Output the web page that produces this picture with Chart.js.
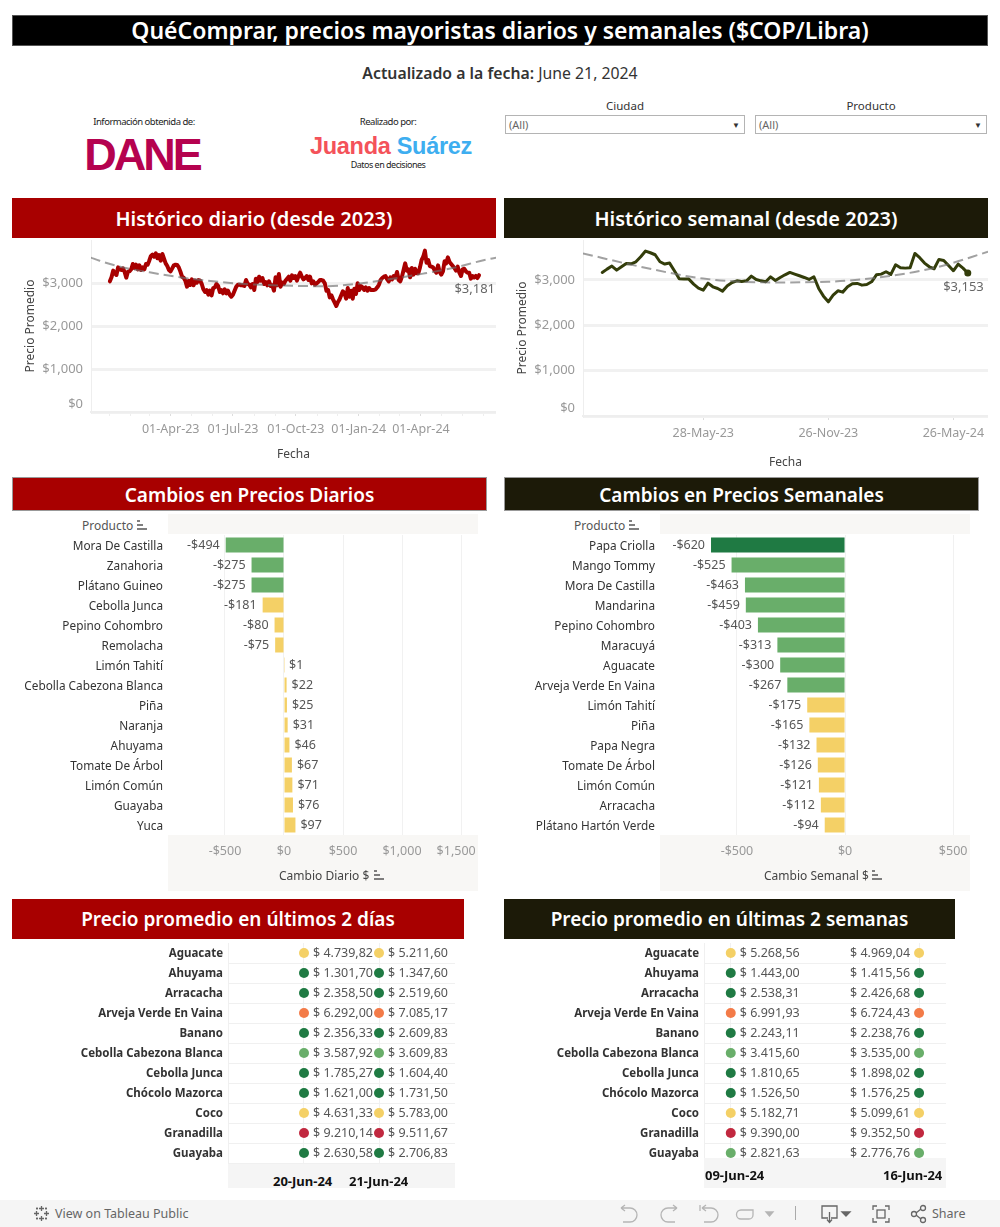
<!DOCTYPE html>
<html lang="es">
<head>
<meta charset="utf-8">
<title>QuéComprar</title>
<script src="https://cdn.jsdelivr.net/npm/chart.js@4"></script>
<style>
  html, body { margin: 0; padding: 0; background: #fff; }
  body { position: relative; width: 1000px; height: 1227px; overflow: hidden; font-family: "Noto Sans", sans-serif; color: #333; }
  canvas { position: absolute; display: block; }
  .caja { position: absolute; box-sizing: border-box; }
  .cab { position: absolute; box-sizing: border-box; color: #fff; font-weight: 600; text-align: center; white-space: nowrap; }
  .roja { background: #a80000; }
  .oscura { background: #1c1a08; }
  .txt { position: absolute; white-space: nowrap; }
  .filtro { position: absolute; box-sizing: border-box; height: 19px; top: 115px; border: 1px solid #b4b4b4; font-size: 11px; color: #666; line-height: 18px; padding-left: 3px; }
  .filtro span { position: absolute; right: 4px; top: 0; font-size: 8px; color: #333; }
  .banda { position: absolute; background: #f8f7f5; }
  .pie { position: absolute; background: #f5f5f5; z-index: 3; }
  svg { position: absolute; }
</style>
</head>
<body>

<div class="cab" style="left:12px;top:15px;width:976px;height:31px;background:#000;border:1px solid #555;font-size:23px;line-height:29px;">QuéComprar, precios mayoristas diarios y semanales ($COP/Libra)</div>
<div class="txt" style="left:0;width:1000px;text-align:center;top:62px;font-size:15.8px;color:#333;"><b style="font-weight:600">Actualizado a la fecha:</b> June 21, 2024</div>

<div class="txt" style="left:64px;width:160px;text-align:center;top:115px;font-size:9.5px;letter-spacing:-.5px;color:#222;">Información obtenida de:</div>
<div class="txt" style="left:62px;width:160px;text-align:center;top:128px;font:700 45px/54px 'Liberation Sans',sans-serif;color:#b5024f;letter-spacing:-3px;">DANE</div>
<div class="txt" style="left:308px;width:160px;text-align:center;top:115px;font-size:9.5px;letter-spacing:-.5px;color:#222;">Realizado por:</div>
<div class="txt" style="left:301px;width:180px;text-align:center;top:132px;font:700 23.5px/28px 'Liberation Sans',sans-serif;letter-spacing:-.3px;"><span style="color:#f4525a">Juanda</span> <span style="color:#3eaef0">Suárez</span></div>
<div class="txt" style="left:308px;width:160px;text-align:center;top:158px;font-size:9px;letter-spacing:-.5px;color:#222;">Datos en decisiones</div>

<div class="txt" style="left:505px;width:240px;text-align:center;top:98px;font-size:11.5px;">Ciudad</div>
<div class="filtro" style="left:505px;width:240px;">(All)<span>▼</span></div>
<div class="txt" style="left:755px;width:232px;text-align:center;top:98px;font-size:11.5px;">Producto</div>
<div class="filtro" style="left:755px;width:232px;">(All)<span>▼</span></div>

<div class="cab roja" style="left:12px;top:198px;width:484px;height:40px;font-size:20px;line-height:42px;">Histórico diario (desde 2023)</div>
<div class="cab oscura" style="left:504px;top:198px;width:484px;height:40px;font-size:20px;line-height:42px;">Histórico semanal (desde 2023)</div>
<canvas id="lineaDiaria" style="left:0;top:240px;" width="496" height="222"></canvas>
<canvas id="lineaSemanal" style="left:504px;top:240px;" width="484" height="230"></canvas>

<div class="cab roja" style="left:12px;top:477px;width:475px;height:34px;font-size:19px;line-height:34px;border:1px solid #999;">Cambios en Precios Diarios</div>
<div class="cab oscura" style="left:504px;top:477px;width:475px;height:34px;font-size:19px;line-height:34px;border:1px solid #999;">Cambios en Precios Semanales</div>
<div class="banda" style="left:168px;top:514px;width:310px;height:20px;"></div>
<div class="banda" style="left:168px;top:835px;width:310px;height:56px;"></div>
<div class="banda" style="left:660px;top:514px;width:310px;height:20px;"></div>
<div class="banda" style="left:660px;top:835px;width:310px;height:56px;"></div>
<div class="txt" style="left:82px;top:517px;font-size:12px;color:#555;">Producto</div>
<div class="txt" style="left:574px;top:517px;font-size:12px;color:#555;">Producto</div>
<svg style="left:137px;top:520px" width="11" height="11"><path d="M0 1h3M0 5h6M0 9h10" stroke="#555" stroke-width="1.6"/></svg>
<svg style="left:629px;top:520px" width="11" height="11"><path d="M0 1h3M0 5h6M0 9h10" stroke="#555" stroke-width="1.6"/></svg>
<canvas id="barrasDiarias" style="left:0;top:535px;" width="478" height="356"></canvas>
<canvas id="barrasSemanales" style="left:492px;top:535px;" width="478" height="356"></canvas>
<div class="txt" style="left:279px;top:867px;font-size:12px;color:#444;">Cambio Diario $</div>
<div class="txt" style="left:764px;top:867px;font-size:12px;color:#444;">Cambio Semanal $</div>
<svg style="left:374px;top:870px" width="11" height="11"><path d="M0 1h3M0 5h6M0 9h10" stroke="#555" stroke-width="1.6"/></svg>
<svg style="left:872px;top:870px" width="11" height="11"><path d="M0 1h3M0 5h6M0 9h10" stroke="#555" stroke-width="1.6"/></svg>

<div class="cab roja" style="left:12px;top:899px;width:452px;height:40px;font-size:19px;line-height:41px;">Precio promedio en últimos 2 días</div>
<div class="cab oscura" style="left:504px;top:899px;width:451px;height:40px;font-size:19px;line-height:41px;">Precio promedio en últimas 2 semanas</div>
<canvas id="tablaDias" style="left:0;top:943px;" width="455" height="221"></canvas>
<canvas id="tablaSemanas" style="left:504px;top:943px;" width="442" height="221"></canvas>
<div class="pie" style="left:228px;top:1164px;width:227px;height:24px;"></div>
<div class="pie" style="left:704px;top:1158px;width:242px;height:30px;"></div>
<div id="fechasPie"></div>

<div class="caja" style="left:0;top:1200px;width:1000px;height:27px;background:#f5f5f5;"></div>
<svg style="left:33px;top:1205px" width="18" height="18" stroke="#666" stroke-width="1.3" fill="none"><path d="M8.5 1v5M6 3.5h5M8.5 11v5M6 13.5h5M3.5 6v5M1 8.5h5M13.5 6v5M11 8.5h5M4 2.5v2M3 3.5h2M13 2.5v2M12 3.5h2M4 12.5v2M3 13.5h2M13 12.5v2M12 13.5h2"/></svg>
<div class="txt" style="left:55px;top:1205px;font-size:12.5px;color:#666;">View on Tableau Public</div>
<svg style="left:615px;top:1204px" width="160" height="20" fill="none" stroke="#b5b5b5" stroke-width="1.3"><path d="M6 4 H15 a7 7 0 0 1 0 14 H8 M6 4 l4 -3 M6 4 l4 3"/><path d="M62 4 H53 a7 7 0 0 0 0 14 H60 M62 4 l-4 -3 M62 4 l-4 3"/><path d="M87 4 H96 a7 7 0 0 1 0 14 H89 M85 1 v6 M87 4 l4 -3 M87 4 l4 3"/><path d="M138 6 H126 a4 4 0 0 0 0 9 H134 a4 4 0 0 0 4 -4 Z"/><path d="M151 8 h7 l-3.5 4 Z" fill="#b5b5b5"/></svg>
<div class="caja" style="left:795px;top:1206px;width:1px;height:14px;background:#aaa;"></div>
<svg style="left:820px;top:1204px" width="150" height="20" fill="none" stroke="#666" stroke-width="1.3"><path d="M8 14 H2 V2 H17 V14 H11 M9.5 8 V18 M7 15.5 l2.5 3 l2.5 -3"/><path d="M22 8 h8 l-4 4 Z" fill="#666"/><path d="M53 6 V2 H57 M65 2 H69 V6 M69 14 V18 H65 M57 18 H53 V14"/><rect x="57" y="6" width="8" height="8"/><circle cx="94" cy="10" r="2.5"/><circle cx="103" cy="4" r="2.5"/><circle cx="103" cy="16" r="2.5"/><path d="M96 9 L101 5 M96 11 L101 15"/></svg>
<div class="txt" style="left:932px;top:1205px;font-size:12.5px;color:#666;">Share</div>

<script>
// ---- Datos ----

// Histórico diario: una muestra cada pocos días desde ene-2023
const valoresDiarios = [
  3039, 3132, 3287, 3225, 3186, 3364, 3318, 3302, 3341, 3256, 3124, 3264, 3271, 3318, 3442, 3349, 3426, 3318, 3411,
  3302, 3364, 3318, 3442, 3426, 3519, 3628, 3659, 3612, 3690, 3574, 3651, 3519, 3674, 3566, 3457, 3395, 3302, 3271,
  3341, 3411, 3426, 3419, 3364, 3264, 3147, 3124, 3054, 2915, 3054, 2953, 3085, 2946, 3054, 3008, 3070,
  3054, 2977, 2853, 2791, 2837, 2729, 2822, 2713, 2884, 2899, 2977, 2930, 2791, 2837, 2760, 2853, 2760, 2822, 2729,
  2682, 2729, 2822, 2915, 2961, 2961, 2946, 2946, 2930, 3070, 2977, 2961, 2899, 2977, 2837, 3101, 3023, 3147, 3054,
  3116, 2977, 3023, 2946, 3039, 2930, 2946, 2822, 3132, 2946, 3209, 2915, 3008, 2977, 3054, 3101, 3147, 3054, 3178, 3116,
  3162, 3054, 3162, 3240, 3147, 3085, 3116, 3162, 3069, 3147, 2992, 3038, 2961, 2992, 3023, 3069, 3069, 3054, 2992,
  2821, 2837, 2666, 2713, 2620, 2542, 2465, 2558, 2620, 2713, 2806, 2759, 2635, 2883, 2682, 2821, 2635, 2868, 2744,
  2992, 2837, 2930, 2899, 2837, 2899, 2821, 2883, 2837, 2837, 2837, 2852, 2899, 2961, 3069, 3116, 3147, 3162, 3085, 3038,
  3132, 3085, 3163, 3132, 3256, 3070, 3039, 3147, 3302, 3457, 3287, 3318, 3132, 3349, 3194, 3333, 3225, 3225, 3364,
  3535, 3612, 3752, 3473, 3535, 3395, 3380, 3364, 3287, 3240, 3411, 3256, 3194, 3271, 3504, 3457, 3597, 3488, 3442,
  3395, 3349, 3287, 3380, 3240, 3163, 3318, 3333, 3271, 3240, 3240, 3101, 3163, 3132, 3163, 3116, 3181
];
const primerDiaMuestra = 1;
const diasEntreMuestras = 2.4;

// Tendencia diaria (días desde 1-ene-2023 y precio)
const tendenciaDiariaDias = [-27, -14, 16, 59, 108, 184, 267, 318, 362, 462, 501, 549, 566];
const tendenciaDiariaValores = [3590, 3518, 3379, 3248, 3123, 2993, 2935, 2925, 2980, 3225, 3342, 3535, 3590];

// Marcas mensuales del eje X diario
const marcasMensuales = [0, 31, 59, 90, 120, 151, 181, 212, 243, 273, 304, 334, 365, 396, 425, 456, 486, 517, 547];
const marcasTrimestre = [90, 181, 273, 365, 456];
const etiquetasTrimestre = ['01-Apr-23', '01-Jul-23', '01-Oct-23', '01-Jan-24', '01-Apr-24'];

// Histórico semanal: una fila por semana desde 01-Jan-23 hasta 16-Jun-24
const valoresSemanales = [
  3165, 3238, 3305, 3216, 3290, 3363, 3356, 3400, 3510, 3636, 3599, 3555, 3400, 3349, 3371, 3201, 3024, 3018, 3018, 2907,
  2819, 2775, 2929, 2848, 2811, 2753, 2870, 2944, 2980, 2966, 2980, 3084, 3010, 2980, 2958, 3068, 2988, 3054, 3113, 3165,
  3128, 3091, 3054, 3010, 3069, 2812, 2642, 2517, 2664, 2760, 2731, 2848, 2915, 2922, 2885, 2900, 2959, 3113, 3128, 3180,
  3121, 3334, 3268, 3260, 3268, 3584, 3489, 3371, 3290, 3246, 3452, 3430, 3319, 3202, 3349, 3260, 3153
];
const tendenciaSemanalIdx = [-4, 8, 21, 35, 47, 60, 70, 80.2];
const tendenciaSemanalValores = [3585, 3290, 3030, 2945, 2960, 3090, 3290, 3620];
const marcasSemana = [21, 47, 73];
const etiquetasSemana = ['28-May-23', '26-Nov-23', '26-May-24'];

// Cambios diarios
const productosDiarios = ['Mora De Castilla', 'Zanahoria', 'Plátano Guineo', 'Cebolla Junca', 'Pepino Cohombro', 'Remolacha', 'Limón Tahití', 'Cebolla Cabezona Blanca', 'Piña', 'Naranja', 'Ahuyama', 'Tomate De Árbol', 'Limón Común', 'Guayaba', 'Yuca'];
const cambiosDiarios = [-494, -275, -275, -181, -80, -75, 1, 22, 25, 31, 46, 67, 71, 76, 97];
const ticksDiarios = [-500, 0, 500, 1000, 1500];

// Cambios semanales
const productosSemanales = ['Papa Criolla', 'Mango Tommy', 'Mora De Castilla', 'Mandarina', 'Pepino Cohombro', 'Maracuyá', 'Aguacate', 'Arveja Verde En Vaina', 'Limón Tahití', 'Piña', 'Papa Negra', 'Tomate De Árbol', 'Limón Común', 'Arracacha', 'Plátano Hartón Verde'];
const cambiosSemanales = [-620, -525, -463, -459, -403, -313, -300, -267, -175, -165, -132, -126, -121, -112, -94];
const ticksSemanales = [-500, 0, 500];

// Tablas de precio promedio
const productosTabla = ['Aguacate', 'Ahuyama', 'Arracacha', 'Arveja Verde En Vaina', 'Banano', 'Cebolla Cabezona Blanca', 'Cebolla Junca', 'Chócolo Mazorca', 'Coco', 'Granadilla', 'Guayaba'];
const precios20Jun = [4739.82, 1301.70, 2358.50, 6292.00, 2356.33, 3587.92, 1785.27, 1621.00, 4631.33, 9210.14, 2630.58];
const precios21Jun = [5211.60, 1347.60, 2519.60, 7085.17, 2609.83, 3609.83, 1604.40, 1731.50, 5783.00, 9511.67, 2706.83];
const precios09Jun = [5268.56, 1443.00, 2538.31, 6991.93, 2243.11, 3415.60, 1810.65, 1526.50, 5182.71, 9390.00, 2821.63];
const precios16Jun = [4969.04, 1415.56, 2426.68, 6724.43, 2238.76, 3535.00, 1898.02, 1576.25, 5099.61, 9352.50, 2776.76];

// ---- Colores y formatos ----
const ROJO = '#a80000', OLIVA = '#333d0a';
const VERDE_OSC = '#1f7a43', VERDE = '#69ae6a', AMARILLO = '#f4d066', NARANJA = '#f37b48', CARMIN = '#c1283f';
const FUENTE = '"Noto Sans", sans-serif';

Chart.defaults.font.family = FUENTE;
Chart.defaults.animation = false;

function colorCambio(v) {
  if (v <= -600) return VERDE_OSC;
  if (v <= -200) return VERDE;
  return AMARILLO;
}
function colorPrecio(v) {
  if (v < 2750) return VERDE_OSC;
  if (v < 4000) return VERDE;
  if (v < 6000) return AMARILLO;
  if (v < 9000) return NARANJA;
  return CARMIN;
}
function dinero(v) {
  return (v < 0 ? '-$' : '$') + Math.abs(v).toLocaleString('en-US');
}
function precioTexto(v) {
  const partes = v.toFixed(2).split('.');
  return '$ ' + partes[0].replace(/\B(?=(\d{3})+$)/g, '.') + ',' + partes[1];
}
function puntos(xs, ys) {
  return ys.map((y, i) => ({ x: xs[i], y: y }));
}
// Fija el tamaño del eje y quita el margen que Chart.js añade por las etiquetas
function ejeFijo(s, tam) {
  if (s.isHorizontal()) s.height = tam; else s.width = tam;
  s.paddingLeft = s.paddingRight = s.paddingTop = s.paddingBottom = 0;
}

// Etiqueta con el último valor de la línea
const etiquetaFinal = {
  id: 'etiquetaFinal',
  afterDatasetsDraw(chart) {
    const meta = chart.getDatasetMeta(1);
    const ult = meta.data[meta.data.length - 1];
    const serie = chart.data.datasets[1].data;
    const c = chart.ctx;
    c.save();
    c.font = '13px ' + FUENTE;
    c.fillStyle = '#666';
    c.textAlign = 'right';
    c.textBaseline = 'middle';
    c.fillText(dinero(serie[serie.length - 1].y), ult.x + 16, ult.y + 14);
    c.restore();
  }
};

// Etiquetas de las barras de cambios
const etiquetaBarras = {
  id: 'etiquetaBarras',
  afterDatasetsDraw(chart) {
    const c = chart.ctx;
    const datos = chart.data.datasets[0].data;
    c.save();
    c.font = '12.5px ' + FUENTE;
    c.fillStyle = '#555';
    c.textBaseline = 'middle';
    chart.getDatasetMeta(0).data.forEach((barra, i) => {
      const neg = datos[i] < 0;
      c.textAlign = neg ? 'right' : 'left';
      c.fillText(dinero(datos[i]), barra.x + (neg ? -6 : 5), barra.y);
    });
    c.restore();
  }
};

// Etiquetas de precio al lado de cada punto
const etiquetaPrecios = {
  id: 'etiquetaPrecios',
  afterDatasetsDraw(chart) {
    const c = chart.ctx;
    c.save();
    c.font = '12.5px ' + FUENTE;
    c.fillStyle = '#555';
    c.textBaseline = 'middle';
    chart.data.datasets.forEach((ds, d) => {
      c.textAlign = ds.lado === 'izq' ? 'right' : 'left';
      chart.getDatasetMeta(d).data.forEach((p, i) => {
        c.fillText(precioTexto(ds.precios[i]), p.x + (ds.lado === 'izq' ? -9 : 9), p.y);
      });
    });
    c.restore();
  }
};

// ---- Gráficos de línea ----
function graficoLinea(id, o) {
  new Chart(document.getElementById(id), {
    type: 'line',
    data: {
      datasets: [
        { data: o.tendencia, borderColor: 'rgba(110,110,110,0.65)', borderWidth: 2, borderDash: [10, 5], pointRadius: 0, cubicInterpolationMode: 'monotone' },
        {
          data: o.serie, borderColor: o.color, backgroundColor: o.color, borderWidth: o.grosor, tension: 0,
          borderJoinStyle: 'round', borderCapStyle: 'round',
          pointRadius: c => (c.dataIndex === o.serie.length - 1 ? o.marcaFinal : 0), pointBorderWidth: 0
        }
      ]
    },
    plugins: [etiquetaFinal],
    options: {
      responsive: false,
      layout: { padding: 0, autoPadding: false },
      plugins: { legend: { display: false }, tooltip: { enabled: false } },
      scales: {
        x: {
          type: 'linear', min: o.xMin, max: o.xMax,
          afterBuildTicks: s => { s.ticks = o.marcas.map(v => ({ value: v })); },
          afterFit: s => ejeFijo(s, o.altoEjeX),
          ticks: {
            autoSkip: false, maxRotation: 0, minRotation: 0, color: '#999', padding: 6, font: { size: 12.5 },
            callback: v => { const i = o.marcasEtiqueta.indexOf(v); return i >= 0 ? o.etiquetas[i] : ''; }
          },
          grid: {
            drawOnChartArea: false, tickLength: 4, tickWidth: 1,
            tickColor: c => (c.tick && o.marcasEtiqueta.includes(c.tick.value) ? '#ddd' : '#eee')
          },
          border: { color: '#eee', width: 2 },
          title: { display: true, text: 'Fecha', color: '#444', font: { size: 12 }, padding: { top: 7, bottom: 0 } }
        },
        y: {
          min: 0, max: o.yMax,
          afterBuildTicks: s => { s.ticks = [0, 1000, 2000, 3000].map(v => ({ value: v })); },
          afterFit: s => ejeFijo(s, o.anchoEjeY),
          ticks: {
            color: '#999', padding: 8, font: { size: 13 },
            callback: v => (v === 0 ? ['$0', ''] : dinero(v))
          },
          grid: { color: '#f1f1f1', lineWidth: 3, drawTicks: false },
          border: { color: '#eee', width: 1 },
          title: { display: true, text: 'Precio Promedio', color: '#444', font: { size: 12 }, padding: { top: o.tituloY, bottom: 0 } }
        }
      }
    }
  });
}

const diasMuestra = valoresDiarios.map((_, i) => primerDiaMuestra + i * diasEntreMuestras);
const indiceSemanas = valoresSemanales.map((_, i) => i);

graficoLinea('lineaDiaria', {
  serie: puntos(diasMuestra, valoresDiarios), tendencia: puntos(tendenciaDiariaDias, tendenciaDiariaValores),
  color: ROJO, grosor: 4, marcaFinal: 0, xMin: -26.6, xMax: 565.8, yMax: 4000,
  marcas: marcasMensuales, marcasEtiqueta: marcasTrimestre, etiquetas: etiquetasTrimestre,
  anchoEjeY: 91, altoEjeX: 50, tituloY: 23
});
graficoLinea('lineaSemanal', {
  serie: puntos(indiceSemanas, valoresSemanales), tendencia: puntos(tendenciaSemanalIdx, tendenciaSemanalValores),
  color: OLIVA, grosor: 3, marcaFinal: 3.5, xMin: -4, xMax: 80.2, yMax: 3880,
  marcas: marcasSemana, marcasEtiqueta: marcasSemana, etiquetas: etiquetasSemana,
  anchoEjeY: 79, altoEjeX: 54, tituloY: 11
});

// ---- Barras de cambios ----
function graficoBarras(id, o) {
  new Chart(document.getElementById(id), {
    type: 'bar',
    data: {
      labels: o.productos,
      datasets: [{ data: o.cambios, backgroundColor: o.cambios.map(colorCambio), categoryPercentage: 1, barPercentage: 0.75 }]
    },
    plugins: [etiquetaBarras],
    options: {
      indexAxis: 'y',
      responsive: false,
      layout: { padding: 0, autoPadding: false },
      plugins: { legend: { display: false }, tooltip: { enabled: false } },
      scales: {
        x: {
          type: 'linear', min: o.min, max: o.max,
          afterBuildTicks: s => { s.ticks = o.ticks.map(v => ({ value: v })); },
          afterFit: s => ejeFijo(s, 56),
          // los espacios corren a la izquierda la última etiqueta para que no se corte
          ticks: { color: '#999', padding: 9, maxRotation: 0, autoSkip: false, font: { size: 12.5 }, callback: v => (v === 1500 ? dinero(v) + '   ' : dinero(v)) },
          grid: { color: '#f1f1f1', drawTicks: false },
          border: { display: false }
        },
        y: {
          afterFit: s => ejeFijo(s, o.anchoEjeY),
          ticks: { color: '#333', padding: 5, autoSkip: false, labelOffset: 1.5, font: { size: 11.8 } },
          grid: { display: false, drawTicks: false },
          border: { display: false }
        }
      }
    }
  });
}

graficoBarras('barrasDiarias', { productos: productosDiarios, cambios: cambiosDiarios, ticks: ticksDiarios, min: -983, max: 1644, anchoEjeY: 168 });
graficoBarras('barrasSemanales', { productos: productosSemanales, cambios: cambiosSemanales, ticks: ticksSemanales, min: -856, max: 578, anchoEjeY: 168 });

// ---- Tablas de precios con puntos ----
function tablaPrecios(id, o) {
  const columna = (precios, col, lado) => ({
    data: productosTabla.map((p, i) => ({ x: col, y: p })),
    precios: precios, lado: lado,
    backgroundColor: precios.map(colorPrecio), pointRadius: 5, pointBorderWidth: 0
  });
  new Chart(document.getElementById(id), {
    type: 'scatter',
    data: {
      labels: productosTabla,
      datasets: [columna(o.col1, 0, 'der'), columna(o.col2, 1, o.lado2)]
    },
    plugins: [etiquetaPrecios],
    options: {
      responsive: false,
      layout: { padding: { bottom: 1 }, autoPadding: false },
      plugins: { legend: { display: false }, tooltip: { enabled: false } },
      scales: {
        x: {
          type: 'linear', min: o.min, max: o.max,
          afterBuildTicks: s => { s.ticks = [0, 1].map(v => ({ value: v })); },
          afterFit: s => ejeFijo(s, 0),
          ticks: { display: false },
          grid: { color: '#f1f1f1', drawTicks: false },
          border: { display: false }
        },
        y: {
          type: 'category', offset: true,
          afterFit: s => ejeFijo(s, o.anchoEjeY),
          ticks: { color: '#333', padding: 5, autoSkip: false, labelOffset: 1, font: { size: 11.5, weight: 'bold' } },
          grid: { color: c => (c.index === 0 ? 'transparent' : '#f0f0f0'), offset: true, drawTicks: false },
          border: { color: '#f0f0f0' }
        }
      }
    }
  });
}

tablaPrecios('tablaDias', { col1: precios20Jun, col2: precios21Jun, lado2: 'der', min: -1.013, max: 2.013, anchoEjeY: 228 });
tablaPrecios('tablaSemanas', { col1: precios09Jun, col2: precios16Jun, lado2: 'izq', min: -0.142, max: 1.143, anchoEjeY: 200 });

// Fechas del pie de cada tabla
const fechasPie = [
  { t: '20-Jun-24', x: 273, y: 1172 }, { t: '21-Jun-24', x: 349, y: 1172 },
  { t: '09-Jun-24', x: 705, y: 1166 }, { t: '16-Jun-24', x: 883, y: 1166 }
];
document.getElementById('fechasPie').innerHTML = fechasPie.map(f =>
  '<div class="txt" style="z-index:4;left:' + f.x + 'px;top:' + f.y + 'px;font-size:13px;font-weight:700;color:#111;">' + f.t + '</div>').join('');
</script>
</body>
</html>
